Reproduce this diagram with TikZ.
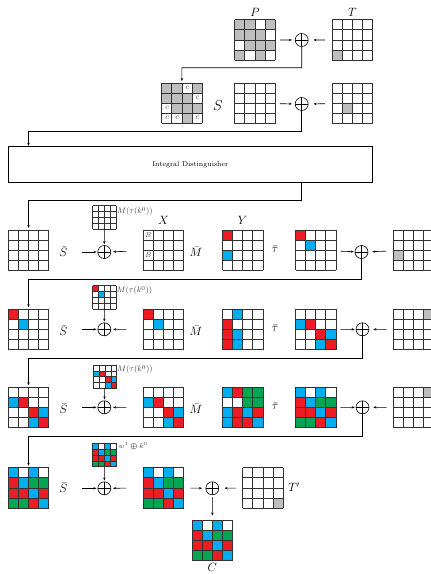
\documentclass[tikz,border=0pt]{standalone}
\usepackage{amsmath,amssymb}
\usetikzlibrary{arrows.meta}
\definecolor{cR}{RGB}{237,28,36}
\definecolor{cB}{RGB}{0,174,239}
\definecolor{cG}{RGB}{0,166,81}
\definecolor{cK}{RGB}{190,190,190}
\definecolor{gl}{RGB}{50,50,50}
\tikzset{
  gridline/.style={draw=gl, line width=0.7pt},
  conn/.style={line width=0.6pt, -{Stealth[length=3pt,width=2.4pt]}},
  plain/.style={line width=0.6pt},
  xorn/.style={circle, draw, line width=0.6pt, minimum size=13pt, inner sep=0pt,
    path picture={\draw[line width=0.6pt] (path picture bounding box.north) -- (path picture bounding box.south)
      (path picture bounding box.west) -- (path picture bounding box.east);}},
  lbl/.style={inner sep=0pt},
  keylbl/.style={inner sep=0pt, anchor=west, text=black!75, font=\footnotesize},
  cellmark/.style={inner sep=0pt, text=black!70, font=\tiny},
}
% name, x, y (top-left), cell size, fills list row/col/colour
\newcommand\blk[5]{%
  \node[inner sep=0pt, outer sep=0pt, minimum width=4*#4, minimum height=4*#4, anchor=north west] (#1) at (#2,#3) {};
  \foreach \ri/\ci/\cl in {#5} {\fill[\cl] (#2+\ci*#4,#3+\ri*#4) rectangle ++(#4,#4);}
  \foreach \i in {0,...,4} {\draw[gridline] (#2+\i*#4,#3) -- ++(0,4*#4); \draw[gridline] (#2,#3+\i*#4) -- ++(4*#4,0);}
}
\begin{document}
\begin{tikzpicture}[x=1pt,y=-1pt]
\useasboundingbox (0,0) rectangle (431,574);
% ---------------- top row
\blk{P}{234.5}{19.5}{10.2}{0/0/cK,0/1/cK,0/3/cK,1/0/cK,1/1/cK,1/2/cK,2/1/cK,2/2/cK,2/3/cK,3/0/cK,3/2/cK}
\blk{T}{332}{19.5}{10.2}{3/0/cK}
\node[lbl, font=\large] (lP) at (255,12) {$P$};
\node[lbl, font=\large] (lT) at (352.5,12) {$T$};
\node[xorn] (x0) at (301.7,40) {};
\draw[conn, shorten <=4.5pt, shorten >=3pt] (P) -- (x0);
\draw[conn, shorten <=7pt, shorten >=5pt] (T) -- (x0);
% ---------------- S row
\blk{S1}{161.7}{83}{10.1}{0/0/cK,0/1/cK,0/3/cK,1/0/cK,1/1/cK,1/2/cK,2/1/cK,2/2/cK,2/3/cK,3/2/cK}
\foreach \ri/\ci in {0/2,1/3,2/0,3/0,3/1,3/3} {\node[cellmark, font=\footnotesize] at (161.7+\ci*10.1+5.5,83+\ri*10.1+4.6) {$c$};}
\node[lbl, font=\Large] (lS) at (218,106) {$S$};
\blk{S2}{234.5}{83}{10.2}{0/0/white}
\blk{T2}{332}{83}{10.2}{2/1/cK}
\node[xorn] (x1) at (301.7,104) {};
\draw[conn, shorten <=4.5pt, shorten >=3pt] (S2) -- (x1);
\draw[conn, shorten <=7pt, shorten >=5pt] (T2) -- (x1);
\coordinate (t0) at (181.9,67.7);
\draw[conn, shorten >=2pt] (x0.south) |- (t0) -- (S1.north);
% ---------------- integral distinguisher box
\node[draw, line width=0.7pt, minimum width=364pt, minimum height=35.6pt, inner sep=0pt, font=\scriptsize] (idbox) at (190.3,164.5) {Integral Distinguisher};
\coordinate (tb) at (28.5,131.7);
\draw[conn, shorten >=0.5pt] (x1.south) |- (tb) -- (idbox.north -| tb);
\coordinate (tc) at (28.5,200);
% ---------------- round row 1
\blk{r1a}{8.3}{230}{10.1}{0/0/white}
\blk{k1}{92.7}{205.7}{5.85}{0/0/white}
\blk{r1b}{143.3}{230}{10.1}{0/0/white}
\foreach \ri in {0,2} {\node[cellmark, font=\scriptsize] at (148.4,230+\ri*10.1+4.8) {$B$};}
\blk{r1c}{222.5}{230}{10.1}{0/0/cR,2/0/cB}
\blk{r1d}{295.5}{230}{10.1}{0/0/cR,1/1/cB}
\blk{r1e}{393.3}{230}{10.1}{2/0/cK}
\node[keylbl] (lk1) at (116.8,211.5) {$M(\tau(k^0))$};
\node[lbl, font=\large] (lX) at (163.5,220.5) {$X$};
\node[lbl, font=\large] (lY) at (242.7,220.5) {$Y$};
\node[lbl, font=\large] (sb1) at (63.3,251.5) {$\bar{S}$};
\node[lbl, font=\large] (mb1) at (196,251.5) {$\bar{M}$};
\node[lbl, font=\large] (tb1) at (275,249.5) {$\bar{\tau}$};
\node[xorn] (x2) at (104.3,252) {};
\node[xorn] (x3) at (361.5,252) {};
\coordinate (a1) at (81.7,252);
\draw[conn, shorten >=1pt] (a1) -- (x2);
\draw[conn, shorten <=17pt, shorten >=2pt] (r1b) -- (x2);
\draw[conn, shorten >=1pt] (k1) -- (x2);
\draw[conn, shorten <=4.5pt, shorten >=1pt] (r1d) -- (x3);
\draw[conn, shorten <=6.6pt, shorten >=4pt] (r1e) -- (x3);
\draw[conn, shorten >=2pt] (idbox.south -| x1) |- (tc) -- (r1a.north);
% ---------------- round row 2
\blk{r2a}{8.3}{309.3}{10.1}{0/0/cR,1/1/cB}
\blk{k2}{92.7}{285.7}{5.85}{0/0/cR,1/1/cB}
\blk{r2b}{143.3}{309.3}{10.1}{0/0/cR,1/1/cB}
\blk{r2c}{222.5}{309.3}{10.1}{0/1/cB,1/0/cR,2/0/cR,2/1/cB,3/0/cR,3/1/cB}
\blk{r2d}{295.5}{309.3}{10.1}{1/0/cB,1/1/cR,2/2/cR,2/3/cB,3/2/cB,3/3/cR}
\blk{r2e}{393.3}{309.3}{10.1}{0/3/cK}
\node[keylbl] (lk2) at (116.3,290.5) {$M(\tau(k^0))$};
\node[lbl, font=\large] (sb2) at (63.3,330.8) {$\bar{S}$};
\node[lbl, font=\large] (mb2) at (196,330.8) {$\bar{M}$};
\node[lbl, font=\large] (tb2) at (275,328.3) {$\bar{\tau}$};
\node[xorn] (x4) at (104.3,329.3) {};
\node[xorn] (x5) at (362.5,329.3) {};
\coordinate (a2) at (81.7,329.3);
\draw[conn, shorten >=1pt] (a2) -- (x4);
\draw[conn, shorten <=17pt, shorten >=2pt] (r2b) -- (x4);
\draw[conn, shorten >=1pt] (k2) -- (x4);
\draw[conn, shorten <=4.5pt, shorten >=1pt] (r2d) -- (x5);
\draw[conn, shorten <=6.6pt, shorten >=4pt] (r2e) -- (x5);
\coordinate (t1) at (28.5,279.3);
\draw[conn, shorten >=2pt] (x3.south) |- (t1) -- (r2a.north);
% ---------------- round row 3
\blk{r3a}{8.3}{387.3}{10.1}{1/0/cB,1/1/cR,2/2/cR,2/3/cB,3/2/cB,3/3/cR}
\blk{k3}{93.3}{365}{5.85}{1/0/cB,1/1/cR,2/2/cR,2/3/cB,3/2/cB,3/3/cR}
\blk{r3b}{143.3}{387.3}{10.1}{1/0/cB,1/1/cR,2/2/cR,2/3/cB,3/2/cB,3/3/cR}
\blk{r3c}{222.5}{387.3}{10.1}{0/0/cB,0/1/cR,0/2/cG,0/3/cG,1/2/cG,1/3/cG,2/0/cB,2/1/cR,2/2/cB,2/3/cR,3/0/cB,3/1/cR,3/2/cR,3/3/cB}
\blk{r3d}{295.5}{387.3}{10.1}{0/0/cB,0/2/cB,1/0/cR,1/1/cB,1/2/cG,1/3/cG,2/0/cR,2/1/cR,2/2/cB,2/3/cR,3/0/cG,3/1/cG,3/2/cR,3/3/cB}
\blk{r3e}{393.3}{387.3}{10.1}{0/3/cK}
\node[keylbl] (lk3) at (116.8,369.5) {$M(\tau(k^0))$};
\node[lbl, font=\large] (sb3) at (63.3,408.8) {$\bar{S}$};
\node[lbl, font=\large] (mb3) at (196,408.8) {$\bar{M}$};
\node[lbl, font=\large] (tb3) at (275,406.5) {$\bar{\tau}$};
\node[xorn] (x6) at (104.3,407.3) {};
\node[xorn] (x7) at (362.5,407.3) {};
\coordinate (a3) at (81.7,407.3);
\draw[conn, shorten >=1pt] (a3) -- (x6);
\draw[conn, shorten <=17pt, shorten >=2pt] (r3b) -- (x6);
\draw[conn, shorten >=1pt] (k3) -- (x6);
\draw[conn, shorten <=4.5pt, shorten >=1pt] (r3d) -- (x7);
\draw[conn, shorten <=6.6pt, shorten >=4pt] (r3e) -- (x7);
\coordinate (t2) at (28.5,358.3);
\draw[conn, shorten >=2pt] (x5.south) |- (t2) -- (r3a.north);
% ---------------- final row
\blk{r4a}{8.3}{467.7}{10.1}{0/0/cB,0/2/cB,1/0/cR,1/1/cB,1/2/cG,1/3/cG,2/0/cR,2/1/cR,2/2/cB,2/3/cR,3/0/cG,3/1/cG,3/2/cR,3/3/cB}
\blk{k4}{92.7}{443.3}{5.85}{0/0/cB,0/2/cB,1/0/cR,1/1/cB,1/2/cG,1/3/cG,2/0/cR,2/1/cR,2/2/cB,2/3/cR,3/0/cG,3/1/cG,3/2/cR,3/3/cB}
\blk{r4b}{143.3}{467.7}{10.1}{0/0/cB,0/2/cB,1/0/cR,1/1/cB,1/2/cG,1/3/cG,2/0/cR,2/1/cR,2/2/cB,2/3/cR,3/0/cG,3/1/cG,3/2/cR,3/3/cB}
\blk{Tp}{242.7}{467.7}{10.1}{3/3/cK}
\blk{C}{192.3}{520}{10.1}{0/0/cB,0/2/cB,1/0/cR,1/1/cB,1/2/cG,1/3/cG,2/0/cR,2/1/cR,2/2/cB,2/3/cR,3/0/cG,3/1/cG,3/2/cR,3/3/cB}
\node[keylbl, font=\scriptsize] (lk4) at (118.5,446) {$w^1\boldsymbol{\oplus}k^0$};
\node[lbl, font=\large] (sb4) at (63.3,487.5) {$\bar{S}$};
\node[lbl, font=\large] (lTp) at (294,487.5) {$T'$};
\node[lbl, font=\large] (lC) at (212.3,567.5) {$C$};
\node[xorn] (x8) at (104.3,488.3) {};
\node[xorn] (x9) at (212.3,488.3) {};
\coordinate (a4) at (81.7,488.3);
\draw[conn, shorten >=1pt] (a4) -- (x8);
\draw[conn, shorten <=17pt, shorten >=2pt] (r4b) -- (x8);
\draw[conn, shorten >=1pt] (k4) -- (x8);
\draw[conn, shorten <=6.7pt, shorten >=3.5pt] (r4b) -- (x9);
\draw[conn, shorten <=6.7pt, shorten >=5.5pt] (Tp) -- (x9);
\draw[conn, shorten <=2pt, shorten >=4.5pt] (x9) -- (C);
\coordinate (t3) at (28.5,436.7);
\draw[conn, shorten >=2pt] (x7.south) |- (t3) -- (r4a.north);
\end{tikzpicture}
\end{document}
